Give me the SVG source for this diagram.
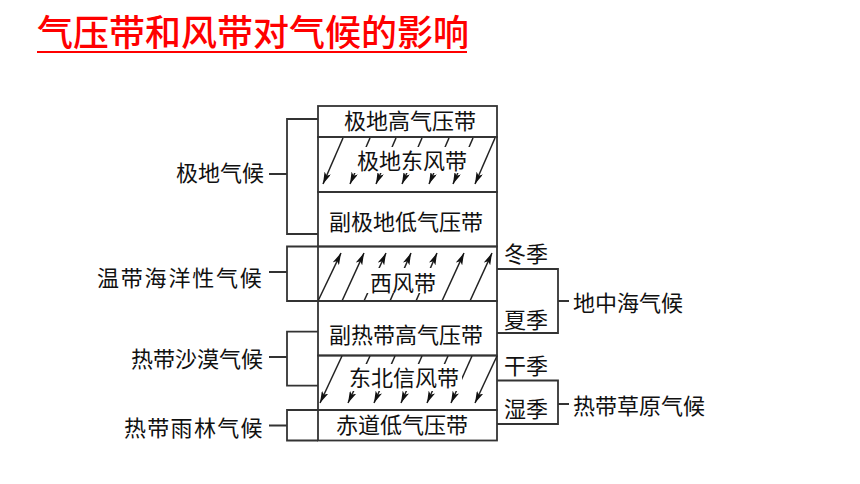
<svg xmlns="http://www.w3.org/2000/svg" width="860" height="484" viewBox="0 0 860 484">
<style>
.t{font-family:"Liberation Serif","Noto Sans CJK SC",serif;font-size:22px;fill:#111}
.m{text-anchor:middle}
.ln{stroke:#333;stroke-width:1.8;fill:none}
.ar{stroke:#222;stroke-width:1.5;fill:none;marker-end:url(#ah)}
.mask{fill:#fff;stroke:none}
.title{font-family:"Noto Sans CJK SC",sans-serif;font-size:36px;font-weight:500;fill:#ff0000}
</style>
<defs>
<marker id="ah" viewBox="0 0 12 7" refX="12" refY="3.5" markerWidth="12" markerHeight="7" markerUnits="userSpaceOnUse" orient="auto">
<path d="M0,0 L12,3.5 L0,7 L3,3.5 z" fill="#111"/>
</marker>
</defs>
<rect width="860" height="484" fill="#fff"/>
<g id="title">
<text class="title" x="37" y="46">气压带和风带对气候的影响</text>
<line x1="37" y1="52" x2="467" y2="52" stroke="#ff0000" stroke-width="2.2"/>
</g>
<g id="polar-high">
<rect class="ln" x="318" y="106" width="179" height="31"/>
<text class="t m" x="410" y="129">极地高气压带</text>
</g>
<g id="polar-easterlies">
<rect class="ln" x="318" y="137" width="179" height="55"/>
<line class="ar" x1="343" y1="138" x2="323" y2="184"/>
<line class="ar" x1="370" y1="138" x2="350" y2="184"/>
<line class="ar" x1="396" y1="138" x2="376" y2="184"/>
<line class="ar" x1="422" y1="138" x2="402" y2="184"/>
<line class="ar" x1="449" y1="138" x2="429" y2="184"/>
<line class="ar" x1="473" y1="138" x2="453" y2="184"/>
<line class="ar" x1="495" y1="138" x2="475" y2="184"/>
<rect class="mask" x="354" y="147" width="116" height="26"/>
<text class="t m" x="412" y="169">极地东风带</text>
</g>
<g id="subpolar-low">
<rect class="ln" x="318" y="192" width="179" height="54.5"/>
<text class="t m" x="406" y="230">副极地低气压带</text>
</g>
<g id="westerlies">
<rect class="ln" x="318" y="246.5" width="179" height="54.5"/>
<line class="ar" x1="318" y1="301" x2="341" y2="253"/>
<line class="ar" x1="342" y1="301" x2="364" y2="253"/>
<line class="ar" x1="364" y1="301" x2="386" y2="253"/>
<line class="ar" x1="390" y1="301" x2="411" y2="253"/>
<line class="ar" x1="416" y1="301" x2="437" y2="253"/>
<line class="ar" x1="442" y1="301" x2="464" y2="253"/>
<line class="ar" x1="470" y1="301" x2="492" y2="253"/>
<rect class="mask" x="366" y="268" width="72" height="25"/>
<text class="t m" x="403" y="291">西风带</text>
</g>
<g id="subtropical-high">
<rect class="ln" x="318" y="301" width="179" height="54.5"/>
<text class="t m" x="406" y="343">副热带高气压带</text>
</g>
<g id="ne-trades">
<rect class="ln" x="318" y="355.5" width="179" height="54.5"/>
<line class="ar" x1="342" y1="356" x2="320" y2="403"/>
<line class="ar" x1="370" y1="356" x2="348" y2="403"/>
<line class="ar" x1="395" y1="356" x2="374" y2="403"/>
<line class="ar" x1="422" y1="356" x2="401" y2="403"/>
<line class="ar" x1="448" y1="356" x2="427" y2="403"/>
<line class="ar" x1="472" y1="356" x2="451" y2="403"/>
<line class="ar" x1="497" y1="356" x2="475" y2="403"/>
<rect class="mask" x="345" y="364" width="117" height="27"/>
<text class="t m" x="404" y="385.5">东北信风带</text>
</g>
<g id="equatorial-low">
<rect class="ln" x="318" y="410" width="179" height="30.5"/>
<text class="t m" x="402" y="433">赤道低气压带</text>
</g>
<g id="climate-polar"><text class="t" x="176" y="181">极地气候</text></g>
<g id="climate-temperate"><text class="t" x="97" y="285.5" letter-spacing="1.8">温带海洋性气候</text></g>
<g id="climate-desert"><text class="t" x="131" y="366.5">热带沙漠气候</text></g>
<g id="climate-rainforest"><text class="t" x="124" y="435.5" letter-spacing="1.3">热带雨林气候</text></g>
<g id="season-winter"><text class="t" x="504" y="262">冬季</text></g>
<g id="season-summer"><text class="t" x="504" y="328">夏季</text></g>
<g id="season-dry"><text class="t" x="504" y="373.5">干季</text></g>
<g id="season-wet"><text class="t" x="504" y="416.5">湿季</text></g>
<g id="climate-mediterranean"><text class="t" x="573" y="311">地中海气候</text></g>
<g id="climate-savanna"><text class="t" x="573" y="413.5">热带草原气候</text></g>
<g id="connectors" class="ln">
<path d="M318,119 H287 V234 H318 M287,174 H269"/>
<path d="M318,246.5 H287 V301 H318 M287,272 H269"/>
<path d="M318,331.7 H287 V385.7 H318 M287,357 H269"/>
<path d="M318,410 H287 V440.5 H318 M287,425.5 H269"/>
<path d="M497,269 H558 V333 H497 M558,301 H569"/>
<path d="M497,380.5 H558 V424 H497 M558,404 H569"/>
</g>
</svg>
